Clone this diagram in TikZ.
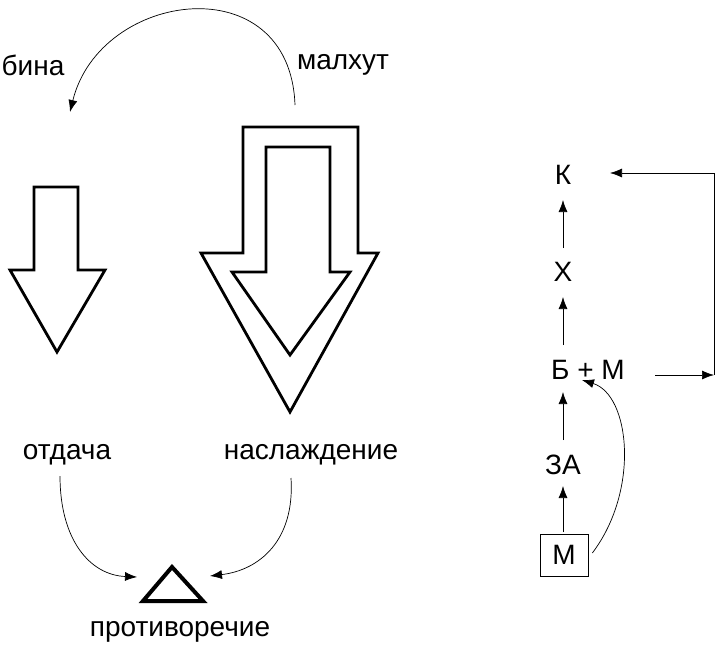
\documentclass[tikz,border=0pt]{standalone}
\usepackage{fontspec}
\setmainfont{Liberation Sans}
\usetikzlibrary{arrows.meta}
\begin{document}
\begin{tikzpicture}[x=1pt,y=-1pt,
  lbl/.style={font=\fontsize{28}{32}\selectfont, inner sep=0pt},
  arr/.style={-{Latex[length=12pt,width=9pt]}, line width=0.7pt},
  big/.style={line width=2.8pt, line join=miter},
  every node/.style={lbl}]
\useasboundingbox (0,0) rectangle (716,646);
% left arrow
\draw[big] (34,187) -- (78,187) -- (78,270) -- (105,270) -- (57,352) -- (10,270) -- (34,270) -- cycle;
% big arrow outer
\draw[big] (243,127) -- (358,127) -- (358,253) -- (378,253) -- (290,412) -- (201,253) -- (243,253) -- cycle;
% inner
\draw[big] (266,147) -- (330,147) -- (330,272) -- (350,272) -- (290,355) -- (232,272) -- (266,272) -- cycle;
\node (bina) at (33,65) {бина};
\node (malh) at (343,65) {малхут};
\node (otd) at (67,455) {отдача};
\node (nasl) at (311,455) {наслаждение};
\node (prot) at (180,632) {противоречие};
\coordinate (tri) at (172,588);
\draw[line width=4pt, line join=miter] (143,601) -- (203,601) -- (172,567) -- cycle;
\coordinate (m1) at (295,105);
\coordinate (b1) at (70,112);
\draw[arr] (m1) .. controls (290,-35) and (100,-10) .. (b1);
\draw[arr] (60,476) .. controls (60,540) and (90,575) .. (137,577);
\draw[arr] (291,478) .. controls (295,540) and (260,570) .. (210,576);
% right
\node (K) at (563,175) {К};
\node (X) at (563,272) {Х};
\node (BM) at (588,370) {Б + М};
\node (ZA) at (563,465) {ЗА};
\node[draw, line width=0.7pt, minimum width=48pt, minimum height=42pt, inner sep=0pt] (M) at (564,555) {М};
\draw[arr] (563,248) -- (563,200);
\draw[arr] (563,345) -- (563,297);
\draw[arr] (563,440) -- (563,392);
\draw[arr] (563,532) -- (563,486);
\coordinate (r1) at (714,375);
\coordinate (r2) at (714,173);
\draw[arr] (655,375) -- (r1);
\draw[line width=0.7pt] (r1) -- (r2);
\draw[arr] (r2) -- (610,173);
\draw[arr] (M.east) ++(4,-2) .. controls (640,490) and (630,395) .. (582,380);
\end{tikzpicture}
\end{document}
